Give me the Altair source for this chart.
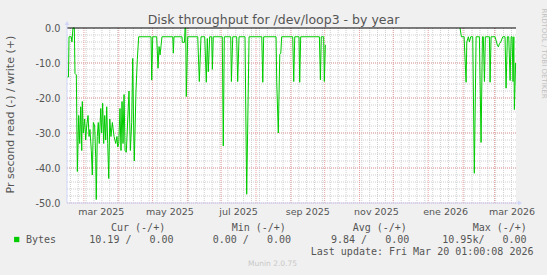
import altair as alt
import pandas as pd

# ---------------- data ----------------
START = pd.Timestamp("2025-02-14T00:00:00")
END = pd.Timestamp("2026-03-20T01:00:00")

# segment 1: days since START, values (Bytes read per second, negative)
seg1_days = [0.0, 1.3, 1.8, 3.8, 4.4, 5.3, 6.5, 7.1, 8.3, 9.2, 10.4, 11.3, 12.2, 13.1, 13.6,
             14.5, 15.7, 16.6, 17.5, 18.7, 19.6, 20.4, 21.6, 22.5, 23.4, 24.6, 25.5, 26.0,
             26.9, 27.8, 28.7, 30.0, 30.8, 31.7, 32.6, 33.5, 34.4, 35.3, 36.2, 37.1, 38.0,
             39.1, 40.3, 41.8, 43.3, 44.4, 45.1, 46.0, 47.1, 48.0, 48.9, 49.8, 50.7, 51.6,
             52.7, 54.0, 55.1, 56.3, 57.5, 58.4, 59.3, 59.8, 61.3, 62.5, 63.7,
             74.7, 75.3, 76.2, 79.7, 80.9, 81.8, 82.7, 83.6, 84.4,
             94.0, 94.5, 95.1, 102.2, 102.5, 104.4, 104.9, 105.5, 106.0, 107.3,
             116.2, 117.6, 119.1, 122.4, 123.8, 124.7, 125.6, 126.8, 128.6, 129.2, 130.0,
             138.0, 138.9, 139.8, 145.5, 146.1, 147.3, 150.8, 151.7, 152.9,
             158.2, 159.7, 161.8, 173.1, 174.0, 174.8, 185.8, 186.4, 187.8, 189.1, 190.0, 190.8,
             200.6, 201.5, 202.4, 206.2, 206.8, 207.7, 224.3, 225.2, 226.0, 228.1, 228.7, 229.6]
seg1_vals = [-14, -14, -2.5, -2.5, -4, 0, 0, -13, -13.4, -41, -25, -33, -22.5, -35, -21,
             -30, -26, -32, -28, -25, -31, -29, -35, -42, -27, -28, -37, -49,
             -31, -27, -33, -23, -30, -21.5, -33, -25, -32, -22.5, -33, -43, -26,
             -31, -27, -31, -33, -31, -34, -33, -23, -35, -21, -33, -19, -35,
             -35.5, -26, -18, -35, -27, -8.7, -30, -38, -18, -9, -2.5,
             -2.5, -14.9, -2.5, -2.5, -11.5, -5.3, -7.7, -5, -2.5,
             -2.5, -7.2, -2.5, -2.5, -4.1, -4.1, 0, 0, -19.6, -2.5,
             -2.5, -15.3, -2.5, -2.5, -15.5, -3, -12.5, -2.5, -2.5, -11.8, -2.5,
             -2.5, -33.7, -2.5, -2.5, -15.3, -2.5, -2.5, -15.3, -2.5,
             -2.5, -47.5, -2.5, -2.5, -15.5, -2.5, -2.5, -15.5, -30, -7.5, -7.2, -2.5,
             -2.5, -15.3, -2.5, -2.5, -15.5, -2.5, -2.5, -14.8, -2.5, -2.5, -15.3, -4.8]

# segment 2 (after the gap with no data)
seg2_days = [349.3, 350.5, 352.9, 354.7, 355.3, 356.7, 357.6, 358.8, 360.6, 362.0, 363.6,
             366.5, 368.0, 369.2, 370.0, 371.0, 371.8, 375.4, 376.0, 376.9, 380.4, 381.3,
             382.5, 383.4, 384.3, 385.5, 387.3, 389.3, 390.2, 391.4, 392.6, 393.8, 394.7,
             395.6, 396.4, 397.1, 397.6, 398.7]
seg2_vals = [0, -2.5, -2.5, -15.5, -4, -2.5, -4, -2.5, -2.5, -41.5, -2.5,
             -2.5, -32.7, -2.5, -2.5, -15.3, -2.5, -2.5, -15.5, -2.5, -2.5, -3.5,
             -4.9, -5.4, -4.5, -4, -2.5, -2.5, -17.2, -2.5, -2.5, -15, -2.5,
             -2.5, -15.3, -2.5, -23.3, -10]

y_ticks = [0, -10, -20, -30, -40, -50]
x_label_text = ["mar 2025", "may 2025", "jul 2025", "sep 2025", "nov 2025", "ene 2026", "mar 2026"]
x_label_date = ["2025-03-16T12:00:00Z", "2025-05-16T12:00:00Z", "2025-07-16T12:00:00Z",
                "2025-09-16T00:00:00Z", "2025-11-16T00:00:00Z", "2026-01-16T12:00:00Z",
                "2026-03-16T12:00:00Z"]

title_text = "Disk throughput for /dev/loop3 - by year"
ytitle_text = "Pr second read (-) / write (+)"
series_name = "Bytes"
stat_headers = ["Cur (-/+)", "Min (-/+)", "Avg (-/+)", "Max (-/+)"]
stat_values = ["10.19 /   0.00", "0.00 /   0.00", "9.84 /   0.00", "10.95k/   0.00"]
last_update = "Last update: Fri Mar 20 01:00:08 2026"
footer = "Munin 2.0.75"
watermark = "RRDTOOL / TOBI OETIKER"

# ---------------- build tables ----------------
def iso(d):
    return (START + pd.to_timedelta(d, unit="D")).strftime("%Y-%m-%dT%H:%M:%SZ")

rows = []
for d, v in zip(seg1_days, seg1_vals):
    rows.append({"t": iso(d), "v": v, "seg": 1})
for d, v in zip(seg2_days, seg2_vals):
    rows.append({"t": iso(d), "v": v, "seg": 2})
line_df = pd.DataFrame(rows)

months = pd.date_range("2025-03-01", "2026-03-01", freq="MS")
weeks = pd.date_range(START, END, freq="W-MON")
month_df = pd.DataFrame({"t": [m.strftime("%Y-%m-%dT00:00:00Z") for m in months]})
week_df = pd.DataFrame({"t": [w.strftime("%Y-%m-%dT00:00:00Z") for w in weeks]})
hminor_df = pd.DataFrame({"v": list(range(-48, 0, 2))})
hmajor_df = pd.DataFrame({"v": y_ticks[1:]})
zero_df = pd.DataFrame({"v": [0]})
xlab_df = pd.DataFrame({"t": x_label_date, "lab": x_label_text})

W, H = 449, 175
FONT = "DejaVu Sans"
MONO = "DejaVu Sans Mono"
TXT = "#555555"
AXC = "#CFD6F8"
GRID_MINOR = "#cfcfcf"
GRID_MAJOR = "#eaa0a0"

xs = alt.Scale(type="utc",
               domain=[alt.DateTime(year=2025, month=2, date=14, utc=True),
                       alt.DateTime(year=2026, month=3, date=20, hours=1, utc=True)])
ys = alt.Scale(domain=[-50, 0], nice=False, zero=False)
yaxis = alt.Axis(
    values=y_ticks, title=None, grid=False, ticks=False, domain=False,
    labelExpr="(datum.value < 0 ? '-' : '') + format(abs(datum.value), '.1f')",
    labelFont=FONT, labelFontSize=9.7, labelColor=TXT, labelPadding=7)

X = lambda: alt.X("t:T", scale=xs, axis=None)
Y = lambda: alt.Y("v:Q", scale=ys, axis=yaxis)

minor_v = alt.Chart(week_df).mark_rule(color=GRID_MINOR, strokeDash=[1, 1], strokeWidth=1).encode(x=X())
minor_h = alt.Chart(hminor_df).mark_rule(color=GRID_MINOR, strokeDash=[1, 1], strokeWidth=1).encode(y=Y())
major_v = alt.Chart(month_df).mark_rule(color=GRID_MAJOR, strokeDash=[1, 1], strokeWidth=1).encode(x=X())
major_h = alt.Chart(hmajor_df).mark_rule(color=GRID_MAJOR, strokeDash=[1, 1], strokeWidth=1).encode(y=Y())

line = alt.Chart(line_df).mark_line(color="#00CC00", strokeWidth=1, interpolate="linear").encode(
    x=X(), y=Y(), detail="seg:N")

zero = alt.Chart(zero_df).mark_rule(color="#000000", strokeWidth=1).encode(y=Y())

xlabels = alt.Chart(xlab_df).mark_text(font=FONT, fontSize=9.5, color=TXT, baseline="middle", align="center").encode(
    x=X(), y=alt.value(H + 9), text="lab:N")

# axis lines and arrows
left_axis = alt.Chart(zero_df).mark_rule(color=AXC).encode(x=alt.value(0), y=alt.value(-4), y2=alt.value(H))
bottom_axis = alt.Chart(zero_df).mark_rule(color=AXC).encode(x=alt.value(0), x2=alt.value(W + 3), y=alt.value(H))
up_arrow = alt.Chart(zero_df).mark_point(shape="triangle-up", filled=True, color=AXC, size=22, opacity=1).encode(
    x=alt.value(0), y=alt.value(-5))
right_arrow = alt.Chart(zero_df).mark_point(shape="triangle-right", filled=True, color=AXC, size=22, opacity=1).encode(
    x=alt.value(W + 4), y=alt.value(H))

NB = "\u00a0"

def label(text, x, y, font=FONT, size=9.5, color=TXT, align="left", angle=0, baseline="middle"):
    return alt.Chart(zero_df).mark_text(text=text.replace(" ", NB), font=font, fontSize=size, color=color,
                                        align=align, baseline=baseline, angle=angle).encode(
        x=alt.value(x), y=alt.value(y))

texts = [
    label(title_text, 206.5, -4, size=12.5, align="center", baseline="alphabetic"),
    label(ytitle_text, -56.2, 86.6, size=11, align="center", angle=270),
    label(watermark, 476.5, 25.5, size=7, color="#c0c0c0", align="center", angle=90),
    label(series_name, -41, 212, font=MONO, size=10),
    label(last_update, 466.5, 223.5, font=MONO, size=10, align="right"),
    label(footer, 205.5, 236, size=7.5, color="#c8c8c8", align="center"),
]
for hx, h in zip([44, 164.7, 285.7, 405.7], stat_headers):
    texts.append(label(h, hx, 200, font=MONO, size=10))
for vx, v in zip([22.3, 145.7, 264, 375.3], stat_values):
    texts.append(label(v, vx, 212, font=MONO, size=10))

legend_box = alt.Chart(zero_df).mark_point(shape="square", filled=True, color="#00CC00", size=28, opacity=1).encode(
    x=alt.value(-50.3), y=alt.value(211.5))

chart = alt.layer(
    minor_v, minor_h, major_v, major_h, line, zero, xlabels,
    left_axis, bottom_axis, up_arrow, right_arrow, legend_box, *texts
).properties(
    width=W, height=H,
    autosize=alt.AutoSizeParams(type="none"),
    padding={"left": 67, "top": 28, "right": 31, "bottom": 72},
    background="#F0F0F0",
).configure_view(fill="#FFFFFF", stroke=None)

chart.save("out.html", embed_options={"renderer": "svg", "actions": False})
